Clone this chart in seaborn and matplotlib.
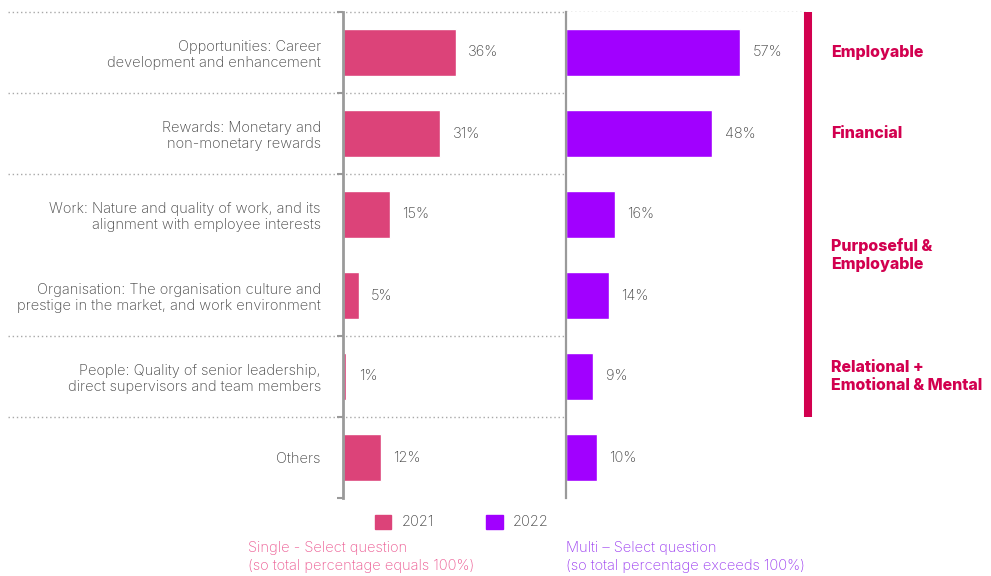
"""
Drivers of attraction: 2021 single-select vs 2022 multi-select, side-by-side bars.
"""

import matplotlib.pyplot as plt
import pandas as pd
import seaborn as sns
from matplotlib.patches import Patch

FACTORS = [
    "Opportunities: Career\ndevelopment and enhancement",
    "Rewards: Monetary and\nnon-monetary rewards",
    "Work: Nature and quality of work, and its\nalignment with employee interests",
    "Organisation: The organisation culture and\nprestige in the market, and work environment",
    "People: Quality of senior leadership,\ndirect supervisors and team members",
    "Others",
]
VALUES_2021 = [36, 31, 15, 5, 1, 12]
VALUES_2022 = [57, 48, 16, 14, 9, 10]

GROUP_LABELS = ["Employable", "Financial", "Purposeful &\nEmployable", "Relational +\nEmotional & Mental"]
GROUP_POS = [0, 1, 2.5, 4]
SEPARATORS = [-0.5, 0.5, 1.5, 3.5, 4.5]

PINK = "#dc4379"
PURPLE = "#a100ff"
CRIMSON = "#d2004f"
TEXT = "#444444"
FONT = ["Inter", "DejaVu Sans"]


def main() -> None:
    df = pd.DataFrame({"factor": FACTORS, "y2021": VALUES_2021, "y2022": VALUES_2022})

    sns.set_theme(style="white")
    plt.rcParams["font.family"] = FONT
    plt.rcParams["font.weight"] = "light"

    W, H = 991, 576
    fig = plt.figure(figsize=(W / 100, H / 100), dpi=100)
    bottom = (H - 498) / H
    height = 486 / H
    ax1 = fig.add_axes([343 / W, bottom, 223 / W, height])
    ax2 = fig.add_axes([566 / W, bottom, 240 / W, height])

    sns.barplot(data=df, x="y2021", y="factor", ax=ax1, color=PINK,
                width=0.57, orient="h", saturation=1)
    sns.barplot(data=df, x="y2022", y="factor", ax=ax2, color=PURPLE,
                width=0.57, orient="h", saturation=1)

    ax1.set_xlim(0, 223 / 3.13)
    ax2.set_xlim(0, 240 / 3.05)
    for ax in (ax1, ax2):
        ax.set_ylim(5.5, -0.5)
        ax.set_xlabel("")
        ax.set_ylabel("")
        ax.set_xticks([])
        for side in ("top", "right", "bottom"):
            ax.spines[side].set_visible(False)
        ax.spines["left"].set_color("#9a9a9a")
        ax.bar_label(ax.containers[0], fmt="%d%%", padding=9,
                     color=TEXT, fontsize=10.5)

    ax1.spines["left"].set_linewidth(2)
    ax2.spines["left"].set_linewidth(1.6)
    ax1.tick_params(axis="y", length=0, pad=16, labelsize=10.5, labelcolor=TEXT)
    ax1.set_yticks([-0.5, 0.5, 1.5, 3.5, 4.5, 5.5], minor=True)
    ax1.tick_params(axis="y", which="minor", left=True, length=4, width=1.5,
                    color="#9a9a9a")
    ax2.set_yticks([])

    # dotted separators spanning both panels
    for y in SEPARATORS:
        ax1.axhline(y, xmin=(8 - 343) / 223, xmax=(808 - 343) / 223,
                    color="#a8a8a8", lw=1, ls=(0, (1, 2)), clip_on=False, zorder=0)

    # crimson group bar and labels
    ax2.axvline(ax2.get_xlim()[1] * (242 / 240), ymin=1 / 6, ymax=1, color=CRIMSON,
                lw=5.8, clip_on=False, solid_capstyle="butt")
    for label, y in zip(GROUP_LABELS, GROUP_POS):
        ax2.text((831 - 566) / 240, y, label, transform=ax2.get_yaxis_transform(),
                 ha="left", va="center", fontsize=11.5, fontweight="heavy",
                 color=CRIMSON, linespacing=1.25)

    handles = [Patch(color=PINK, label="2021"), Patch(color=PURPLE, label="2022")]
    fig.legend(handles=handles, loc="center", bbox_to_anchor=(462 / W, 1 - 522 / H),
               ncol=2, frameon=False, handlelength=1.1, handleheight=1.1,
               columnspacing=3.6, handletextpad=0.7, fontsize=10.5, labelcolor=TEXT)

    fig.text(248 / W, 1 - 541 / H, "Single - Select question\n(so total percentage equals 100%)",
             ha="left", va="top", fontsize=10.5, color="#ec5a92", linespacing=1.35)
    fig.text(566 / W, 1 - 541 / H, "Multi \u2013 Select question\n(so total percentage exceeds 100%)",
             ha="left", va="top", fontsize=10.5, color="#9b3cf0", linespacing=1.35)

    fig.savefig("out.png", dpi=100)
    plt.close(fig)


if __name__ == "__main__":
    main()
